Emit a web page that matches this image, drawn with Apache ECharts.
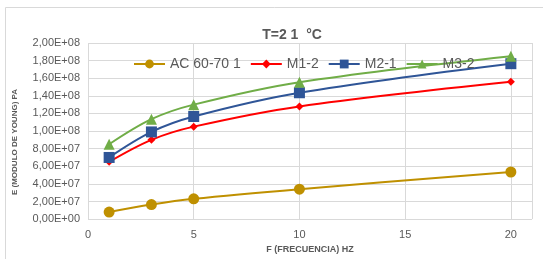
<!DOCTYPE html>
<html><head><meta charset="utf-8">
<script src="https://cdn.jsdelivr.net/npm/echarts@6/dist/echarts.min.js"></script>
<style>html,body{margin:0;padding:0;background:#fff}#c{width:543px;height:259px}</style>
</head><body><div id="c"></div>
<script>
const freq = [1, 3, 5, 10, 20];
const seriesNames = ['AC 60-70 1', 'M1-2', 'M2-1', 'M3-2'];
const acValues = [8.0e6, 1.65e7, 2.3e7, 3.4e7, 5.35e7];
const m12Values = [6.5e7, 9.0e7, 1.05e8, 1.28e8, 1.56e8];
const m21Values = [7.0e7, 9.9e7, 1.165e8, 1.435e8, 1.765e8];
const m32Values = [8.5e7, 1.135e8, 1.3e8, 1.555e8, 1.85e8];
const xTicks = [0, 5, 10, 15, 20];

const chart = echarts.init(document.getElementById('c'));
const colors = ['#BF9000', '#FF0000', '#2F5597', '#70AD47'];
const symbols = ['circle', 'diamond', 'rect', 'triangle'];
const sizes = [11, 8, 11, 11];
const vals = [acValues, m12Values, m21Values, m32Values];
const font = 'Liberation Sans';
function sci(v){
  if (v === 0) return '0,00E+00';
  const e = Math.floor(Math.log10(v) + 1e-9);
  const m = v / Math.pow(10, e);
  return m.toFixed(2).replace('.', ',') + 'E+' + String(e).padStart(2, '0');
}
chart.setOption({
  animation: false,
  color: colors,
  title: {
    text: 'T=2 1  °C', left: 287, top: 23, textAlign: 'center',
    textStyle: {fontFamily: font, fontSize: 14, fontWeight: 'bold', color: '#595959'}
  },
  legend: {
    data: seriesNames, left: 128, top: 52, itemWidth: 31, itemHeight: 11, itemGap: 9,
    textStyle: {fontFamily: font, fontSize: 14, color: '#595959'}
  },
  grid: {left: 88, right: 11, top: 43, bottom: 35, containLabel: false},
  graphic: [
    {type: 'rect', shape: {x: 5.5, y: 7.5, width: 600, height: 300}, style: {fill: 'none', stroke: '#d9d9d9', lineWidth: 1}, z: -1},
    {type: 'text', x: 11, y: 142, rotation: Math.PI / 2, style: {text: 'E (MODULO DE YOUNG) PA', fontFamily: font, fontSize: 8, fontWeight: 'bold', fill: '#595959', align: 'center', verticalAlign: 'top'}}
  ],
  xAxis: {
    type: 'value', min: 0, max: 21, interval: 5,
    name: 'F (FRECUENCIA) HZ', nameLocation: 'middle', nameGap: 25,
    nameTextStyle: {fontFamily: font, fontSize: 9, fontWeight: 'bold', color: '#595959'},
    axisLine: {show: false}, axisTick: {show: false},
    axisLabel: {fontFamily: font, fontSize: 11, color: '#595959', margin: 10, showMaxLabel: false,
      formatter: v => xTicks.includes(v) ? String(v) : ''},
    splitLine: {show: true, lineStyle: {color: '#d9d9d9', width: 1}}
  },
  yAxis: {
    type: 'value', min: 0, max: 2e8, interval: 2e7,
    axisLine: {show: false}, axisTick: {show: false},
    axisLabel: {fontFamily: font, fontSize: 11, color: '#595959', margin: 8, formatter: sci},
    splitLine: {lineStyle: {color: '#d9d9d9', width: 1}}
  },
  series: seriesNames.map((n, i) => ({
    name: n, type: 'line', smooth: 0.35,
    data: freq.map((f, j) => [f, vals[i][j]]),
    symbol: symbols[i], symbolSize: sizes[i],
    lineStyle: {width: 2, color: colors[i]},
    itemStyle: {color: colors[i]}
  }))
});
</script></body></html>
